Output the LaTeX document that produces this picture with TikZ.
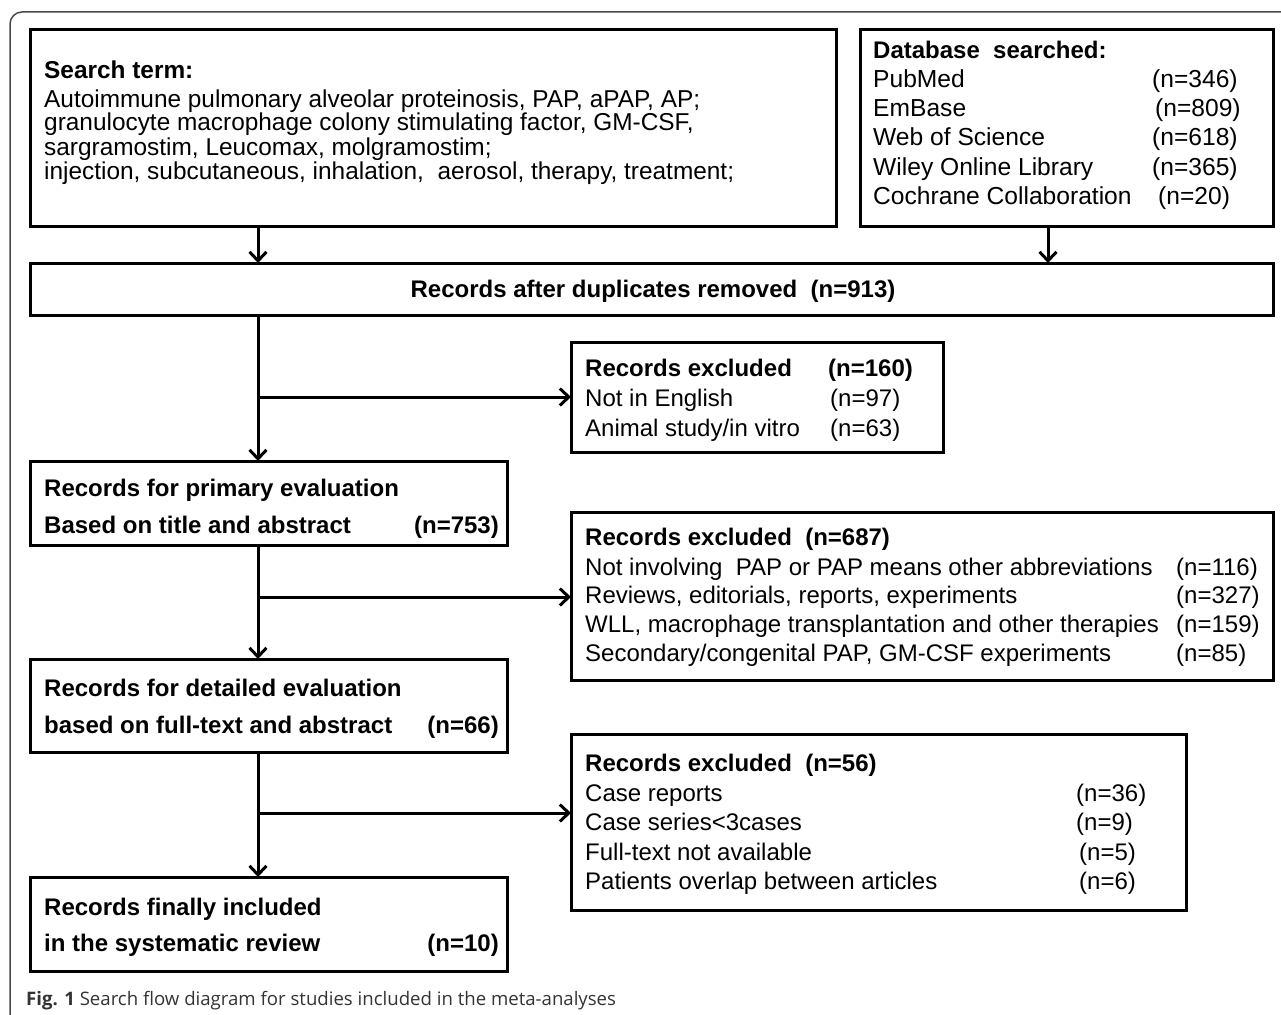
\documentclass[tikz,border=0pt]{standalone}
\usepackage{fontspec}
\setmainfont{Liberation Sans}
\newfontfamily\capfont{Open Sans}
\usetikzlibrary{arrows.meta}
\definecolor{framecol}{HTML}{4A4A4A}
\definecolor{capcol}{HTML}{333333}
\begin{document}
\begin{tikzpicture}[x=1pt,y=-1pt,
  box/.style={draw, line width=3pt, anchor=north west, inner sep=0pt, outer sep=0pt},
  st/.style={anchor=base west, inner sep=0pt, font=\fontsize{24.4}{24}\selectfont},
  sb/.style={anchor=base west, inner sep=0pt, font=\fontsize{24.4}{24}\selectfont\bfseries},
  dt/.style={anchor=base west, inner sep=0pt, font=\fontsize{24.6}{24}\selectfont},
  db/.style={anchor=base west, inner sep=0pt, font=\fontsize{24}{24}\selectfont\bfseries},
  rt/.style={anchor=base west, inner sep=0pt, font=\fontsize{24}{24}\selectfont},
  rb/.style={anchor=base west, inner sep=0pt, font=\fontsize{24}{24}\selectfont\bfseries},
  rbr/.style={anchor=base east, inner sep=0pt, font=\fontsize{24}{24}\selectfont\bfseries},
  arr/.style={line width=3pt, -{Straight Barb[length=9pt,width=17pt,line width=3pt]}}]
\useasboundingbox (0,0) rectangle (1281,1014);
% outer frame
\draw[framecol, line width=1.5pt, rounded corners=12pt] (1300,12) -- (10,12) -- (10,1040);
% boxes
\node[box, minimum width=806pt, minimum height=196pt] (search) at (30,30) {};
\node[box, minimum width=413pt, minimum height=196pt] (dbx) at (860,30) {};
\node[box, minimum width=1243pt, minimum height=52pt] (dup) at (30,263) {};
\node[box, minimum width=372pt, minimum height=110pt] (ex1) at (571,342) {};
\node[box, minimum width=477pt, minimum height=84pt] (prim) at (30,461) {};
\node[box, minimum width=702pt, minimum height=168pt] (ex2) at (571,512) {};
\node[box, minimum width=477pt, minimum height=93pt] (det) at (30,659) {};
\node[box, minimum width=615pt, minimum height=176pt] (ex3) at (571,734) {};
\node[box, minimum width=477pt, minimum height=94pt] (fin) at (30,877) {};
% search term text
\node[sb] (s0) at (44,79) {Search term:};
\node[st] (s1) at (44,107) {Autoimmune pulmonary alveolar proteinosis, PAP, aPAP, AP;};
\node[st] (s2) at (44,131) {granulocyte macrophage colony stimulating factor, GM-CSF,};
\node[st] (s3) at (44,155) {sargramostim, Leucomax, molgramostim;};
\node[st] (s4) at (44,179) {injection, subcutaneous, inhalation,\ \ aerosol, therapy, treatment;};
% database text
\node[db] (d0) at (873,59) {Database\ \ searched:};
\node[dt] (d1) at (873,88) {PubMed};
\node[dt] (d2) at (873,117) {EmBase};
\node[dt] (d3) at (873,146) {Web of Science};
\node[dt] (d4) at (873,175) {Wiley Online Library};
\node[dt] (d5) at (873,204) {Cochrane Collaboration};
\node[dt] (dn1) at (1152,88) {(n=346)};
\node[dt] (dn2) at (1155,117) {(n=809)};
\node[dt] (dn3) at (1152,146) {(n=618)};
\node[dt] (dn4) at (1152,175) {(n=365)};
\node[dt] (dn5) at (1158,204) {(n=20)};
% duplicates
\node[anchor=base, inner sep=0pt, font=\fontsize{24}{24}\selectfont\bfseries] (dupt) at (653,297) {Records after duplicates removed\ \ (n=913)};
% excluded 1
\node[rb] (e10) at (585,376) {Records excluded};
\node[rb] (e10n) at (828,376) {(n=160)};
\node[rt] (e11) at (585,406) {Not in English};
\node[rt] (e11n) at (830,406) {(n=97)};
\node[rt] (e12) at (585,436) {Animal study/in vitro};
\node[rt] (e12n) at (830,436) {(n=63)};
% primary
\node[rb] (p1) at (44,496) {Records for primary evaluation};
\node[rb] (p2) at (44,533) {Based on title and abstract};
\node[rbr] (p2n) at (499,533) {(n=753)};
% excluded 2
\node[rb] (e20) at (585,545) {Records excluded\ \ (n=687)};
\node[rt] (e21) at (585,575) {Not involving\ \ PAP or PAP means other abbreviations};
\node[rt] (e22) at (585,603) {Reviews, editorials, reports, experiments};
\node[rt] (e23) at (585,632) {WLL, macrophage transplantation and other therapies};
\node[rt] (e24) at (585,661) {Secondary/congenital PAP, GM-CSF experiments};
\node[rt] (e21n) at (1176,575) {(n=116)};
\node[rt] (e22n) at (1176,603) {(n=327)};
\node[rt] (e23n) at (1176,632) {(n=159)};
\node[rt] (e24n) at (1176,661) {(n=85)};
% detailed
\node[rb] (t1) at (44,696) {Records for detailed evaluation};
\node[rb] (t2) at (44,733) {based on full-text and abstract};
\node[rbr] (t2n) at (499,733) {(n=66)};
% excluded 3
\node[rb] (e30) at (585,771) {Records excluded\ \ (n=56)};
\node[rt] (e31) at (585,801) {Case reports};
\node[rt] (e32) at (585,830) {Case series<3cases};
\node[rt] (e33) at (585,860) {Full-text not available};
\node[rt] (e34) at (585,889) {Patients overlap between articles};
\node[rt] (e31n) at (1076,801) {(n=36)};
\node[rt] (e32n) at (1076,830) {(n=9)};
\node[rt] (e33n) at (1079,860) {(n=5)};
\node[rt] (e34n) at (1079,889) {(n=6)};
% final
\node[rb] (f1) at (44,915) {Records finally included};
\node[rb] (f2) at (44,951) {in the systematic review};
\node[rbr] (f2n) at (499,951) {(n=10)};
% caption
\node[anchor=base west, inner sep=0pt, text=capcol, font=\capfont\fontsize{18.6}{19}\selectfont] (cap) at (26,1005) {\textbf{Fig. 1} Search flow diagram for studies included in the meta-analyses};
% connectors
\coordinate (sb) at (258,226);
\coordinate (b1) at (258,397);
\coordinate (b2) at (258,597);
\coordinate (b3) at (258,813);
\coordinate (dbb) at (1048,226);
\draw[arr] (sb) -- (sb |- dup.north);
\draw[arr] (dbb) -- (dbb |- dup.north);
\draw[arr] (sb |- dup.south) -- (sb |- prim.north);
\draw[arr] (b1) -- (b1 -| ex1.west);
\draw[arr] (sb |- prim.south) -- (sb |- det.north);
\draw[arr] (b2) -- (b2 -| ex2.west);
\draw[arr] (sb |- det.south) -- (sb |- fin.north);
\draw[arr] (b3) -- (b3 -| ex3.west);
\end{tikzpicture}
\end{document}
